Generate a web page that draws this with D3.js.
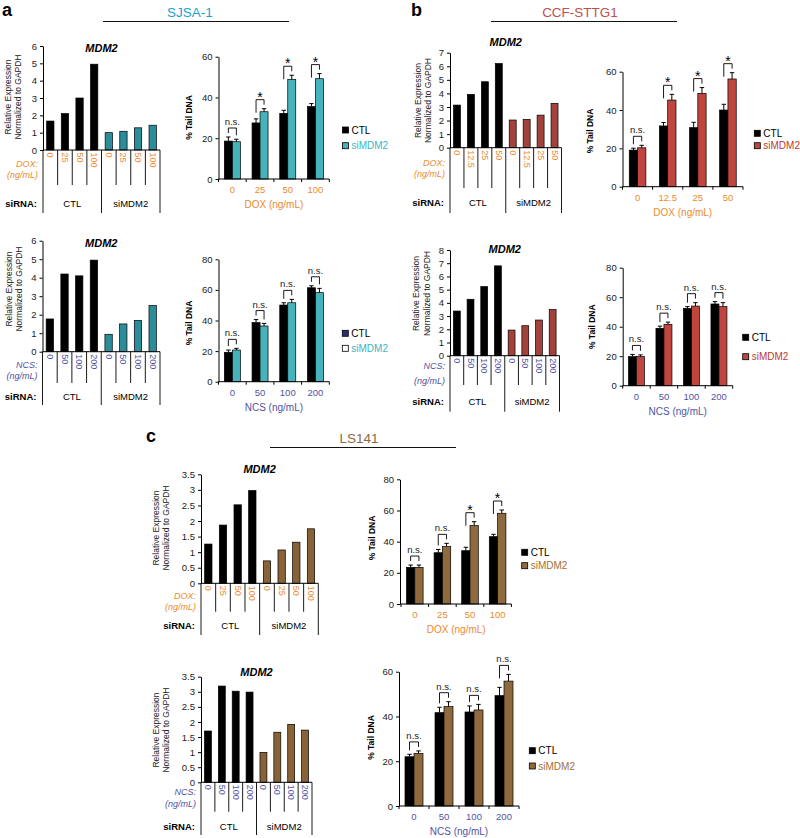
<!DOCTYPE html>
<html><head><meta charset="utf-8">
<script src="https://cdn.jsdelivr.net/npm/d3@7"></script>
<style>body{margin:0;background:#fff}svg{display:block;font-family:"Liberation Sans",Arial,sans-serif}</style>
</head><body><script>
// ---------- DATA ----------
const groups = ["CTL", "siMDM2"];
// a: SJSA-1
const sjsaDoxDoses = ["0", "25", "50", "100"];
const sjsaDoxExprCTL = [1.67, 2.1, 3.0, 4.95];
const sjsaDoxExprSi = [1.0, 1.08, 1.28, 1.43];
const sjsaDoxTailCTL = [18.6, 27.5, 32.2, 35.5];
const sjsaDoxTailCTLErr = [2.0, 2.0, 1.5, 1.5];
const sjsaDoxTailSi = [18.3, 33, 48.9, 49.2];
const sjsaDoxTailSiErr = [1.2, 1.5, 2.0, 2.5];
const sjsaDoxSig = ["n.s.", "*", "*", "*"];
const sjsaNcsDoses = ["0", "50", "100", "200"];
const sjsaNcsExprCTL = [1.77, 4.2, 4.1, 4.95];
const sjsaNcsExprSi = [0.94, 1.5, 1.69, 2.5];
const sjsaNcsTailCTL = [19.2, 38.6, 50.1, 61.4];
const sjsaNcsTailCTLErr = [1.5, 2.0, 1.5, 1.3];
const sjsaNcsTailSi = [20.7, 36.4, 51.6, 58.2];
const sjsaNcsTailSiErr = [1.1, 1.7, 2.2, 2.8];
const sjsaNcsSig = ["n.s.", "n.s.", "n.s.", "n.s."];
// b: CCF-STTG1
const ccfDoxDoses = ["0", "12.5", "25", "50"];
const ccfDoxExprCTL = [3.14, 3.93, 4.86, 6.2];
const ccfDoxExprSi = [2.04, 2.09, 2.4, 3.27];
const ccfDoxTailCTL = [19.1, 31.7, 30.8, 40];
const ccfDoxTailCTLErr = [1.0, 1.8, 2.8, 3.0];
const ccfDoxTailSi = [20.3, 45.2, 48.7, 56.2];
const ccfDoxTailSiErr = [1.3, 3.0, 3.0, 3.3];
const ccfDoxSig = ["n.s.", "*", "*", "*"];
const ccfNcsDoses = ["0", "50", "100", "200"];
const ccfNcsExprCTL = [3.38, 4.27, 5.23, 6.8];
const ccfNcsExprSi = [1.94, 2.27, 2.7, 3.5];
const ccfNcsTailCTL = [19.7, 38.9, 52.4, 55.4];
const ccfNcsTailCTLErr = [1.5, 1.5, 1.2, 1.6];
const ccfNcsTailSi = [19.7, 41.6, 54, 53.6];
const ccfNcsTailSiErr = [1.2, 1.5, 2.3, 2.7];
const ccfNcsSig = ["n.s.", "n.s.", "n.s.", "n.s."];
// c: LS141
const lsDoxDoses = ["0", "25", "50", "100"];
const lsDoxExprCTL = [1.26, 1.87, 2.52, 2.98];
const lsDoxExprSi = [0.72, 1.07, 1.32, 1.75];
const lsDoxTailCTL = [23.5, 32.9, 34.2, 43.2];
const lsDoxTailCTLErr = [1.5, 2.1, 2.2, 1.5];
const lsDoxTailSi = [23.5, 36.8, 50.3, 58.2];
const lsDoxTailSiErr = [1.5, 2.1, 2.5, 2.1];
const lsDoxSig = ["n.s.", "n.s.", "*", "*"];
const lsNcsDoses = ["0", "50", "100", "200"];
const lsNcsExprCTL = [1.7, 3.19, 3.02, 2.99];
const lsNcsExprSi = [0.99, 1.66, 1.92, 1.73];
const lsNcsTailCTL = [22, 41.7, 42, 49.3];
const lsNcsTailCTLErr = [1.1, 2.4, 2.7, 3.7];
const lsNcsTailSi = [23.5, 44.4, 42.9, 55.8];
const lsNcsTailSiErr = [1.1, 2.2, 2.5, 3.0];
const lsNcsSig = ["n.s.", "n.s.", "n.s.", "n.s."];
// tick labels
const ticksExpr6 = [0, 1, 2, 3, 4, 5, 6];
const ticksExpr7 = [0, 1, 2, 3, 4, 5, 6, 7];
const ticksExpr8 = [0, 1, 2, 3, 4, 5, 6, 7, 8];
const ticksExpr35 = [0, 0.5, 1, 1.5, 2, 2.5, 3, 3.5];
const ticksTail60 = [0, 20, 40, 60];
const ticksTail80 = [0, 20, 40, 60, 80];

// ---------- STYLE ----------
const DOX = "#ec8a2e", NCS = "#5252a3";
const svg = d3.select("body").append("svg").attr("width", 800).attr("height", 838);

function txt(g, x, y, s, o = {}) {
  const t = g.append("text").attr("x", x).attr("y", y).text(s)
    .attr("font-size", o.size || 9).attr("fill", o.fill || "#000")
    .attr("text-anchor", o.anchor || "start");
  if (o.weight) t.attr("font-weight", o.weight);
  if (o.style) t.attr("font-style", o.style);
  if (o.rotate) t.attr("transform", `rotate(${o.rotate},${x},${y})`);
  if (o.db) t.attr("dominant-baseline", o.db);
  return t;
}

function styleAxis(ax) {
  ax.attr("font-family", null).attr("font-size", 9);
  ax.selectAll(".domain").attr("stroke", "#000").attr("stroke-width", 1);
  ax.selectAll(".tick line").attr("stroke", "#000");
  ax.selectAll(".tick text").attr("fill", "#222");
}

function exprPanel(o) {
  const g = svg.append("g");
  const idx = d3.range(8);
  const vals = o.ctl.concat(o.si);
  const xb = d3.scaleBand().domain(idx).range([o.x0, o.x1]);
  const y = d3.scaleLinear().domain([0, o.ymax]).range([o.y0, o.yTop]);
  g.selectAll("rect").data(vals).join("rect")
    .attr("x", (d, i) => xb(i) + xb.bandwidth() * 0.25)
    .attr("width", xb.bandwidth() * 0.5)
    .attr("y", d => y(d)).attr("height", d => y(0) - y(d))
    .attr("fill", (d, i) => i < 4 ? "#000" : o.color)
    .attr("stroke", "#000").attr("stroke-width", 0.7);
  const ax = g.append("g").attr("transform", `translate(${o.x0},0)`)
    .call(d3.axisLeft(y).tickValues(o.ticks).tickSize(3).tickSizeOuter(0).tickFormat(d => String(d)));
  styleAxis(ax);
  ax.selectAll(".tick text").attr("font-size", 9.5);
  g.append("line").attr("x1", o.x0).attr("x2", o.x1).attr("y1", o.y0).attr("y2", o.y0).attr("stroke", "#000");
  // table lines
  d3.range(9).forEach(i => {
    const x = i < 8 ? xb(i) : o.x1;
    const end = (i % 4 === 0) ? o.outerEnd : o.innerEnd;
    g.append("line").attr("x1", x).attr("x2", x).attr("y1", o.y0).attr("y2", end).attr("stroke", "#000").attr("stroke-width", 0.9);
  });
  idx.forEach(i => {
    const cx = xb(i) + xb.bandwidth() / 2;
    txt(g, cx, o.y0 + 2.5, o.doses[i % 4], { size: 9, fill: o.doseColor, rotate: 90, db: "central" });
  });
  txt(g, o.x0 - 5, o.row1, o.treat, { size: 9, fill: o.doseColor, anchor: "end", style: "italic" });
  txt(g, o.x0 - 5, o.row2, "(ng/mL)", { size: 9, fill: o.doseColor, anchor: "end", style: "italic" });
  txt(g, o.x0 - 6, o.siRow, "siRNA:", { size: 9.5, weight: "bold", anchor: "end" });
  const xm = xb(4);
  txt(g, (o.x0 + xm) / 2, o.siRow, groups[0], { size: 9.5, anchor: "middle" });
  txt(g, (xm + o.x1) / 2, o.siRow, groups[1], { size: 9.5, anchor: "middle" });
  txt(g, (o.x0 + o.x1) / 2, o.titleY, "MDM2", { size: 11, weight: "bold", style: "italic", anchor: "middle" });
  txt(g, o.yt1, o.ytc, "Relative Expression", { size: 8.5, anchor: "middle", rotate: -90, db: "central", fill: "#222" });
  txt(g, o.yt2, o.ytc, "Normalized to GAPDH", { size: 8.5, anchor: "middle", rotate: -90, db: "central", fill: "#222" });
}

function tailPanel(o) {
  const g = svg.append("g");
  const step = (o.x1 - o.x0) / 4;
  const pad = 1 - 2 * o.barW / step;
  const xg = d3.scaleBand().domain(o.doses).range([o.x0, o.x1]).paddingInner(pad).paddingOuter(pad / 2);
  const xs = d3.scaleBand().domain(groups).range([0, xg.bandwidth()]);
  const y = d3.scaleLinear().domain([0, o.ymax]).range([o.y0, o.yTop]);
  const series = [
    { k: groups[0], v: o.ctl, e: o.ctlErr, fill: "#000" },
    { k: groups[1], v: o.si, e: o.siErr, fill: o.color }
  ];
  series.forEach(s => {
    s.v.forEach((d, i) => {
      const bx = xg(o.doses[i]) + xs(s.k);
      g.append("rect").attr("x", bx).attr("width", xs.bandwidth())
        .attr("y", y(d)).attr("height", y(0) - y(d))
        .attr("fill", s.fill).attr("stroke", "#000").attr("stroke-width", 0.7);
      const cx = bx + xs.bandwidth() / 2;
      g.append("path").attr("d", `M${cx},${y(d)}V${y(d + s.e[i])}M${cx - 2.2},${y(d + s.e[i])}H${cx + 2.2}`)
        .attr("stroke", "#000").attr("stroke-width", 1).attr("fill", "none");
    });
  });
  const ax = g.append("g").attr("transform", `translate(${o.ax},0)`)
    .call(d3.axisLeft(y).tickValues(o.ticks).tickSize(3).tickSizeOuter(0));
  styleAxis(ax);
  ax.selectAll(".tick text").attr("font-size", 9.5);
  g.append("line").attr("x1", o.ax).attr("x2", o.x1).attr("y1", o.y0).attr("y2", o.y0).attr("stroke", "#000");
  d3.range(5).forEach(i => {
    const x = o.x0 + i * step;
    g.append("line").attr("x1", x).attr("x2", x).attr("y1", o.y0).attr("y2", o.y0 + 3).attr("stroke", "#000");
  });
  o.doses.forEach(d => {
    txt(g, xg(d) + xg.bandwidth() / 2, o.y0 + 14, d, { size: 9.5, fill: o.doseColor, anchor: "middle" });
  });
  txt(g, (o.x0 + o.x1) / 2, o.y0 + 29, o.xTitle, { size: 10, fill: o.doseColor, anchor: "middle" });
  txt(g, o.ytx, o.ytc, "% Tail DNA", { size: 8.5, weight: "bold", anchor: "middle", rotate: -90, db: "central" });
  // significance brackets
  o.sig.forEach((s, i) => {
    const b = xg(o.doses[i]);
    const lx = b + xs(groups[0]) + xs.bandwidth() / 2, rx = b + xs(groups[1]) + xs.bandwidth() / 2;
    const t1 = y(o.ctl[i] + o.ctlErr[i]), t2 = y(o.si[i] + o.siErr[i]);
    const by = Math.min(t1, t2) - 9;
    const l1 = Math.min(t1 - 4, by + 13), l2 = Math.min(t2 - 4, by + 13);
    g.append("path").attr("d", `M${lx},${l1}V${by}H${rx}V${l2}`)
      .attr("fill", "none").attr("stroke", "#000").attr("stroke-width", 0.9);
    const mx = (lx + rx) / 2;
    if (s === "*") txt(g, mx, by + 2, s, { size: 14, anchor: "middle" });
    else txt(g, mx, by - 3, s, { size: 9.5, anchor: "middle", fill: "#222" });
  });
  // legend
  [[groups[0], o.legY1, o.legC1, "#000"], [groups[1], o.legY2, o.legC2, o.legText]].forEach(([name, ly, fc, tc]) => {
    g.append("rect").attr("x", o.legX).attr("y", ly - 3).attr("width", 6).attr("height", 6)
      .attr("fill", fc).attr("stroke", "#000").attr("stroke-width", 0.8);
    txt(g, o.legX + 9, ly, name, { size: 10, fill: tc, db: "central" });
  });
}

// ---------- HEADERS ----------
const hdr = svg.append("g");
txt(hdr, 2, 16, "a", { size: 18, weight: "bold" });
txt(hdr, 411, 16, "b", { size: 18, weight: "bold" });
txt(hdr, 146, 442, "c", { size: 18, weight: "bold" });
txt(hdr, 190, 17, "SJSA-1", { size: 13.5, fill: "#1e9fd1", anchor: "middle" });
txt(hdr, 580, 17, "CCF-STTG1", { size: 13.5, fill: "#c0504d", anchor: "middle" });
txt(hdr, 359, 443, "LS141", { size: 13.5, fill: "#8b6a45", anchor: "middle" });
hdr.append("line").attr("x1", 103).attr("x2", 289).attr("y1", 21.5).attr("y2", 21.5).attr("stroke", "#111");
hdr.append("line").attr("x1", 491).attr("x2", 677).attr("y1", 21.5).attr("y2", 21.5).attr("stroke", "#111");
hdr.append("line").attr("x1", 270).attr("x2", 456).attr("y1", 447.5).attr("y2", 447.5).attr("stroke", "#111");

// ---------- PANELS ----------
const A_EXPR = "#2b8d9a", A_TAIL = "#46b3bc", A_TXT = "#3cb4c4";
const B_EXPR = "#a3423d", B_TAIL = "#c1453f", B_TXT = "#c0392b";
const C_EXPR = "#8a6238", C_TAIL = "#8f6a3f", C_TXT = "#a0703a";

exprPanel({ x0: 43, x1: 160, y0: 150, yTop: 46, ymax: 6, ticks: ticksExpr6, ctl: sjsaDoxExprCTL, si: sjsaDoxExprSi,
  color: A_EXPR, doses: sjsaDoxDoses, doseColor: DOX, treat: "DOX:", row1: 166.5, row2: 177.5, siRow: 206.5,
  innerEnd: 185, outerEnd: 213, titleY: 52, yt1: 8, yt2: 18, ytc: 97 });
exprPanel({ x0: 42.5, x1: 160, y0: 351.7, yTop: 240.7, ymax: 6, ticks: ticksExpr6, ctl: sjsaNcsExprCTL, si: sjsaNcsExprSi,
  color: A_EXPR, doses: sjsaNcsDoses, doseColor: NCS, treat: "NCS:", row1: 368, row2: 379, siRow: 400,
  innerEnd: 383, outerEnd: 405, titleY: 247, yt1: 9, yt2: 19, ytc: 289 });
exprPanel({ x0: 450, x1: 561.5, y0: 147.7, yTop: 52.7, ymax: 7, ticks: ticksExpr7, ctl: ccfDoxExprCTL, si: ccfDoxExprSi,
  color: B_EXPR, doses: ccfDoxDoses, doseColor: DOX, treat: "DOX:", row1: 166, row2: 177, siRow: 206,
  innerEnd: 188, outerEnd: 213, titleY: 46, yt1: 418, yt2: 428, ytc: 100.5 });
exprPanel({ x0: 450, x1: 559.5, y0: 355.7, yTop: 250, ymax: 8, ticks: ticksExpr8, ctl: ccfNcsExprCTL, si: ccfNcsExprSi,
  color: B_EXPR, doses: ccfNcsDoses, doseColor: NCS, treat: "NCS:", row1: 368.5, row2: 384, siRow: 405,
  innerEnd: 385, outerEnd: 411.7, titleY: 253, yt1: 416, yt2: 427, ytc: 293.5 });
exprPanel({ x0: 201, x1: 318.3, y0: 583.3, yTop: 474.3, ymax: 3.5, ticks: ticksExpr35, ctl: lsDoxExprCTL, si: lsDoxExprSi,
  color: C_EXPR, doses: lsDoxDoses, doseColor: DOX, treat: "DOX:", row1: 598.5, row2: 609.5, siRow: 629.3,
  innerEnd: 611.7, outerEnd: 635, titleY: 473, yt1: 156, yt2: 166, ytc: 528 });
exprPanel({ x0: 201, x1: 312, y0: 782.3, yTop: 676.7, ymax: 3.5, ticks: ticksExpr35, ctl: lsNcsExprCTL, si: lsNcsExprSi,
  color: C_EXPR, doses: lsNcsDoses, doseColor: NCS, treat: "NCS:", row1: 795, row2: 807, siRow: 830,
  innerEnd: 811.7, outerEnd: 835, titleY: 676, yt1: 156, yt2: 166, ytc: 730 });

tailPanel({ ax: 218.5, x0: 218.5, x1: 329.3, barW: 8, y0: 179, yTop: 56.7, ymax: 60, ticks: ticksTail60,
  doses: sjsaDoxDoses, ctl: sjsaDoxTailCTL, ctlErr: sjsaDoxTailCTLErr, si: sjsaDoxTailSi, siErr: sjsaDoxTailSiErr, sig: sjsaDoxSig,
  color: A_TAIL, doseColor: DOX, xTitle: "DOX (ng/mL)", ytx: 188.5, ytc: 117.5,
  legX: 342.5, legY1: 130, legY2: 145.7, legC1: "#000", legC2: A_TAIL, legText: A_TXT });
tailPanel({ ax: 218.5, x0: 218.5, x1: 329.3, barW: 8, y0: 381.7, yTop: 259.3, ymax: 80, ticks: ticksTail80,
  doses: sjsaNcsDoses, ctl: sjsaNcsTailCTL, ctlErr: sjsaNcsTailCTLErr, si: sjsaNcsTailSi, siErr: sjsaNcsTailSiErr, sig: sjsaNcsSig,
  color: A_TAIL, doseColor: NCS, xTitle: "NCS (ng/mL)", ytx: 188.5, ytc: 323,
  legX: 342.3, legY1: 333.3, legY2: 348.3, legC1: "#2e2e6e", legC2: "#fff", legText: A_TXT });
tailPanel({ ax: 622.5, x0: 622.5, x1: 743, barW: 8.3, y0: 186.7, yTop: 71.7, ymax: 60, ticks: ticksTail60,
  doses: ccfDoxDoses, ctl: ccfDoxTailCTL, ctlErr: ccfDoxTailCTLErr, si: ccfDoxTailSi, siErr: ccfDoxTailSiErr, sig: ccfDoxSig,
  color: B_TAIL, doseColor: DOX, xTitle: "DOX (ng/mL)", ytx: 590, ytc: 131,
  legX: 754.3, legY1: 133.3, legY2: 145.7, legC1: "#000", legC2: B_TAIL, legText: B_TXT });
tailPanel({ ax: 622.7, x0: 622.7, x1: 732.7, barW: 8, y0: 385.7, yTop: 267.7, ymax: 80, ticks: ticksTail80,
  doses: ccfNcsDoses, ctl: ccfNcsTailCTL, ctlErr: ccfNcsTailCTLErr, si: ccfNcsTailSi, siErr: ccfNcsTailSiErr, sig: ccfNcsSig,
  color: B_TAIL, doseColor: NCS, xTitle: "NCS (ng/mL)", ytx: 592, ytc: 326.7,
  legX: 742.7, legY1: 337.3, legY2: 356.7, legC1: "#000", legC2: B_TAIL, legText: B_TXT });
tailPanel({ ax: 400, x0: 401, x1: 511.4, barW: 8.3, y0: 604, yTop: 479.3, ymax: 80, ticks: ticksTail80,
  doses: lsDoxDoses, ctl: lsDoxTailCTL, ctlErr: lsDoxTailCTLErr, si: lsDoxTailSi, siErr: lsDoxTailSiErr, sig: lsDoxSig,
  color: C_TAIL, doseColor: DOX, xTitle: "DOX (ng/mL)", ytx: 372, ytc: 538,
  legX: 521.7, legY1: 552.3, legY2: 565.7, legC1: "#000", legC2: C_TAIL, legText: C_TXT });
tailPanel({ ax: 399, x0: 399, x1: 519, barW: 9, y0: 806, yTop: 671.7, ymax: 60, ticks: ticksTail60,
  doses: lsNcsDoses, ctl: lsNcsTailCTL, ctlErr: lsNcsTailCTLErr, si: lsNcsTailSi, siErr: lsNcsTailSiErr, sig: lsNcsSig,
  color: C_TAIL, doseColor: NCS, xTitle: "NCS (ng/mL)", ytx: 371, ytc: 737.5,
  legX: 529.3, legY1: 750.7, legY2: 766, legC1: "#000", legC2: C_TAIL, legText: C_TXT });
</script></body></html>
